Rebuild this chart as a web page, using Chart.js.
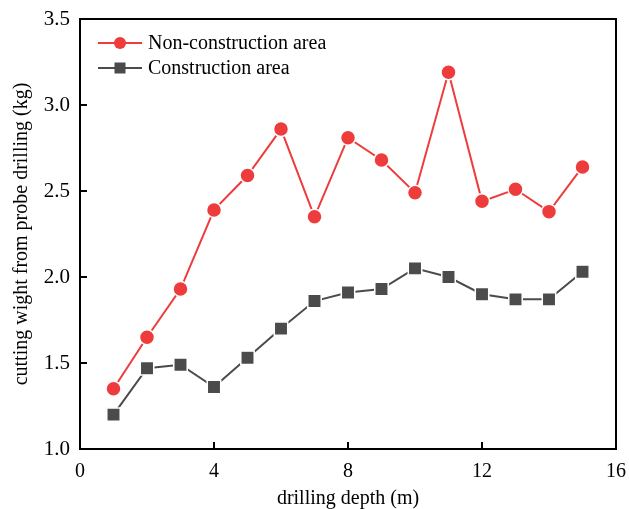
<!DOCTYPE html>
<html>
<head>
<meta charset="utf-8">
<script src="https://cdn.jsdelivr.net/npm/chart.js@4"></script>
<style>
  html, body { margin: 0; padding: 0; background: #fff; }
  #wrap { width: 629px; height: 509px; }
</style>
</head>
<body>
<div id="wrap"><canvas id="c" width="629" height="509"></canvas></div>
<script>
const depth = [1, 2, 3, 4, 5, 6, 7, 8, 9, 10, 11, 12, 13, 14, 15]
const nonConstruction = [1.35, 1.65, 1.93, 2.39, 2.59, 2.86, 2.35, 2.81, 2.68, 2.49, 3.19, 2.44, 2.51, 2.38, 2.64]
const construction = [1.20, 1.47, 1.49, 1.36, 1.53, 1.70, 1.86, 1.91, 1.93, 2.05, 2.00, 1.90, 1.87, 1.87, 2.03]

const FONT = 'Liberation Serif'
const RED = '#ee3b3b'
const GRAY = '#4b4b4b'

// frame + inward ticks + legend inside the plot box
const framePlugin = {
  id: 'frame',
  afterDraw(chart) {
    const { ctx, chartArea: a, scales } = chart
    ctx.save()
    ctx.strokeStyle = '#000'
    ctx.lineWidth = 2
    ctx.strokeRect(a.left, a.top, a.right - a.left, a.bottom - a.top)

    ctx.beginPath()
    scales.x.ticks.forEach(t => {
      const px = scales.x.getPixelForValue(t.value)
      if (px <= a.left + 1 || px >= a.right - 1) return
      ctx.moveTo(px, a.bottom)
      ctx.lineTo(px, a.bottom - 7)
    })
    scales.y.ticks.forEach(t => {
      const py = scales.y.getPixelForValue(t.value)
      if (py <= a.top + 1 || py >= a.bottom - 1) return
      ctx.moveTo(a.left, py)
      ctx.lineTo(a.left + 7, py)
    })
    ctx.stroke()

    // legend
    ctx.font = `20px "${FONT}"`
    ctx.textBaseline = 'middle'
    chart.data.datasets.forEach((ds, i) => {
      const y = a.top + 24 + i * 25
      const x0 = a.left + 18
      ctx.strokeStyle = ds.borderColor
      ctx.lineWidth = 2
      ctx.beginPath()
      ctx.moveTo(x0, y)
      ctx.lineTo(x0 + 44, y)
      ctx.stroke()
      ctx.fillStyle = ds.pointBackgroundColor
      if (ds.pointStyle === 'circle') {
        ctx.beginPath()
        ctx.arc(x0 + 22, y, 6, 0, Math.PI * 2)
        ctx.fill()
      } else {
        ctx.fillRect(x0 + 22 - 5.5, y - 5.5, 11, 11)
      }
      ctx.fillStyle = '#000'
      ctx.fillText(ds.label, x0 + 50, y + 1)
    })
    ctx.restore()
  },
}

new Chart(document.getElementById('c'), {
  type: 'line',
  data: {
    datasets: [
      {
        label: 'Non-construction area',
        data: depth.map((d, i) => ({ x: d, y: nonConstruction[i] })),
        borderColor: RED,
        borderWidth: 2,
        pointStyle: 'circle',
        pointRadius: 7.5,
        pointBackgroundColor: RED,
        pointBorderColor: '#fff',
        pointBorderWidth: 1.5,
        tension: 0,
      },
      {
        label: 'Construction area',
        data: depth.map((d, i) => ({ x: d, y: construction[i] })),
        borderColor: GRAY,
        borderWidth: 2,
        pointStyle: 'rect',
        pointRadius: 9.5,
        pointBackgroundColor: GRAY,
        pointBorderColor: '#fff',
        pointBorderWidth: 1.5,
        tension: 0,
      },
    ],
  },
  options: {
    responsive: false,
    animation: false,
    layout: { padding: { top: 19, right: 13, left: 0, bottom: 0 } },
    plugins: { legend: { display: false }, tooltip: { enabled: false } },
    scales: {
      x: {
        type: 'linear',
        min: 0,
        max: 16,
        afterFit(s) { s.height = 60 },
        grid: { display: false },
        border: { display: false },
        ticks: {
          stepSize: 4,
          color: '#000',
          padding: 3,
          font: { family: FONT, size: 20 },
        },
        title: {
          display: true,
          text: 'drilling depth (m)',
          color: '#000',
          padding: { top: 4, bottom: -2 },
          font: { family: FONT, size: 20 },
        },
      },
      y: {
        min: 1.0,
        max: 3.5,
        afterFit(s) { s.width = 80 },
        grid: { display: false },
        border: { display: false },
        ticks: {
          stepSize: 0.5,
          color: '#000',
          padding: 2,
          font: { family: FONT, size: 21 },
          callback: v => v.toFixed(1),
        },
        title: {
          display: true,
          text: 'cutting wight from probe drilling (kg)',
          color: '#000',
          padding: { top: 10, bottom: 0 },
          font: { family: FONT, size: 20 },
        },
      },
    },
  },
  plugins: [framePlugin],
})
</script>
</body>
</html>
